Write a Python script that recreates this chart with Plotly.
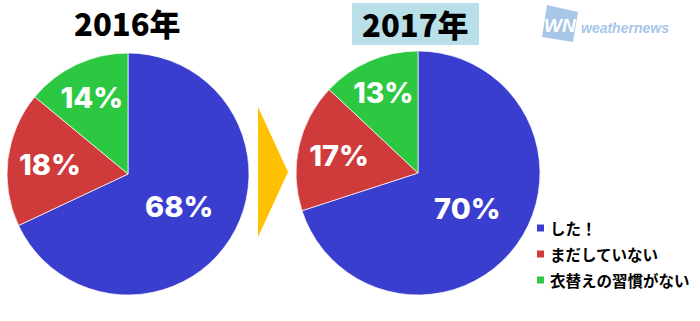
import plotly.graph_objects as go

W, H = 700, 321

categories = ["した！", "まだしていない", "衣替えの習慣がない"]
values_2016 = [68, 18, 14]
values_2017 = [70, 17, 13]
years = ["2016年", "2017年"]
colors = ["#3a3ecf", "#cf3a3a", "#2dc842"]

def px(x):
    return x / W

def py(y):
    return 1 - y / H

label_font = dict(family="Inter, Open Sans, sans-serif", size=29, color="white", weight=800)

fig = go.Figure()

# Left pie: centre (128,174), r 121
fig.add_trace(go.Pie(
    labels=categories, values=values_2016, sort=False, direction="clockwise", rotation=0,
    marker=dict(colors=colors, line=dict(color="rgba(255,255,255,0.7)", width=1)),
    text=[f"{v}%" for v in values_2016], textinfo="text", textposition="inside",
    insidetextorientation="horizontal", insidetextfont=label_font,
    domain=dict(x=[px(7), px(249)], y=[py(295), py(53)]),
    showlegend=False, hoverinfo="label+percent",
))
# Right pie: centre (418,173), r 122
fig.add_trace(go.Pie(
    labels=categories, values=values_2017, sort=False, direction="clockwise", rotation=0,
    marker=dict(colors=colors, line=dict(color="rgba(255,255,255,0.7)", width=1)),
    text=[f"{v}%" for v in values_2017], textinfo="text", textposition="inside",
    insidetextorientation="horizontal", insidetextfont=label_font,
    domain=dict(x=[px(296), px(540)], y=[py(295), py(51)]),
    showlegend=False, hoverinfo="label+percent",
))

shapes = []
# Arrow triangle
shapes.append(dict(
    type="path", xref="paper", yref="paper",
    path=f"M {px(258)} {py(107)} L {px(288)} {py(172)} L {px(258)} {py(237)} Z",
    fillcolor="#ffc000", line=dict(width=0),
))
# 2017 title box
shapes.append(dict(
    type="rect", xref="paper", yref="paper",
    x0=px(352), x1=px(479), y0=py(45), y1=py(3),
    fillcolor="#b9dfe8", line=dict(width=0), layer="below",
))
# WN logo block (slightly tilted)
shapes.append(dict(
    type="path", xref="paper", yref="paper",
    path=f"M {px(547)} {py(5)} L {px(578)} {py(12)} L {px(573)} {py(42)} L {px(542)} {py(37)} Z",
    fillcolor="#a8c6e8", line=dict(width=0),
))

title_font = dict(family="Noto Sans CJK JP, sans-serif", size=31, color="black", weight=900)
annotations = [
    dict(text=years[0], x=px(127), y=py(22), xref="paper", yref="paper",
         showarrow=False, font=title_font, xanchor="center", yanchor="middle"),
    dict(text=years[1], x=px(415), y=py(23), xref="paper", yref="paper",
         showarrow=False, font=title_font, xanchor="center", yanchor="middle"),
    dict(text="<i>WN</i>", x=px(560), y=py(25), xref="paper", yref="paper",
         showarrow=False, font=dict(family="Liberation Sans", size=19, color="white", weight="bold"),
         xanchor="center", yanchor="middle"),
    dict(text="<i>weathernews</i>", x=px(579), y=py(28), xref="paper", yref="paper",
         showarrow=False, font=dict(family="Liberation Sans", size=14, color="#a8c6e8", weight="bold"),
         xanchor="left", yanchor="middle"),
]

# Legend (manual, small square markers)
legend_y = [228, 254, 280]
for cat, col, ly in zip(categories, colors, legend_y):
    shapes.append(dict(
        type="rect", xref="paper", yref="paper",
        x0=px(537), x1=px(544), y0=py(ly + 3.5), y1=py(ly - 3.5),
        fillcolor=col, line=dict(width=0),
    ))
    annotations.append(dict(
        text=cat, x=px(548), y=py(ly), xref="paper", yref="paper",
        showarrow=False, xanchor="left", yanchor="middle",
        font=dict(family="Noto Sans CJK JP, sans-serif", size=15.5, color="black", weight="bold"),
    ))

fig.update_layout(
    width=W, height=H,
    margin=dict(l=0, r=0, t=0, b=0, autoexpand=False),
    paper_bgcolor="white", plot_bgcolor="white",
    shapes=shapes, annotations=annotations,
    showlegend=False,
)

fig.write_html("out.html")
